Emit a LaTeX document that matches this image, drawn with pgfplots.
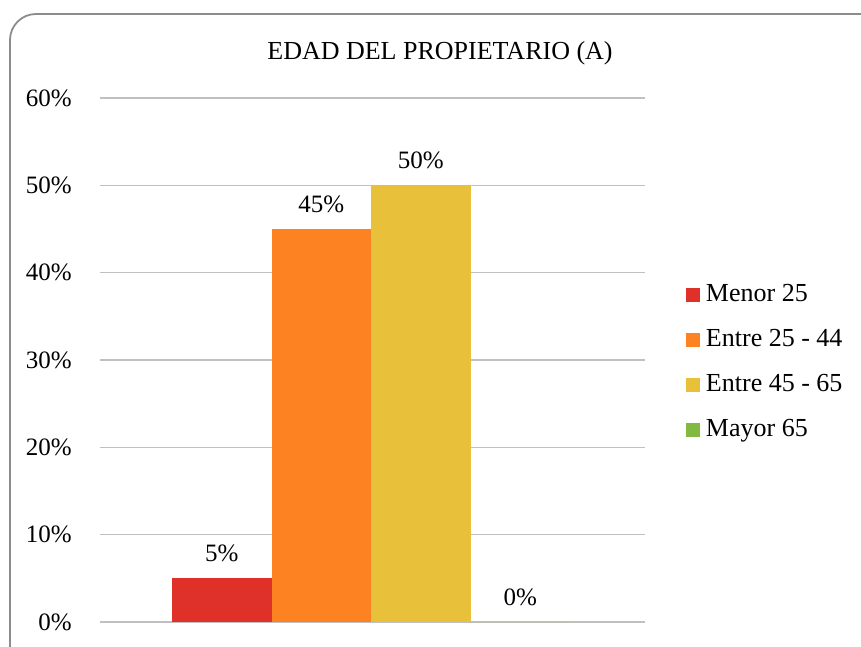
\documentclass[border=0pt]{standalone}
\usepackage{pgfplots}
\pgfplotsset{compat=1.18}
\usepackage{fontspec}
\setmainfont{Liberation Serif}
\definecolor{cRed}{HTML}{E0302A}
\definecolor{cOrange}{HTML}{FD8221}
\definecolor{cYellow}{HTML}{E9C03A}
\definecolor{cGreen}{HTML}{82BA41}
\definecolor{cGrid}{HTML}{C0C0C0}
\definecolor{cBorder}{HTML}{8C8C8C}
\begin{document}
\begin{tikzpicture}[x=1pt,y=1pt]
\useasboundingbox (0,0) rectangle (861,646);
\draw[color=cBorder, line width=1.8pt, rounded corners=26pt] (10,632) rectangle (920,-60);
\node[font=\fontsize{26}{30}\selectfont] at (440,593) {EDAD DEL PROPIETARIO (A)};
\begin{axis}[
  at={(100pt,24pt)}, anchor=south west,
  scale only axis, width=545pt, height=524pt,
  ybar=0pt, bar width=99.5pt,
  xmin=-271, xmax=274, ymin=0, ymax=60,
  xtick=\empty, ytick={0,10,20,30,40,50,60},
  yticklabels={0\%,10\%,20\%,30\%,40\%,50\%,60\%},
  ymajorgrids, grid style={color=cGrid, line width=1.5pt},
  axis line style={draw=none},
  major tick length=0pt,
  tick label style={font=\fontsize{25}{30}\selectfont},
  /pgf/number format/assume math mode=true,
  yticklabel style={anchor=east, inner sep=0pt, xshift=-28pt},
  point meta=explicit symbolic,
  nodes near coords={\pgfplotspointmeta\%},
  nodes near coords style={font=\fontsize{25}{30}\selectfont, anchor=center, yshift=25pt, inner sep=0pt},
  legend image code/.code={\fill[#1] (0pt,-7pt) rectangle (14pt,7pt);},
  legend style={at={(1.0752,0.4943)}, anchor=west, draw=none, fill=none,
    inner sep=0pt, outer sep=0pt, column sep=6pt, row sep=21pt,
    font=\fontsize{26}{30}\selectfont,
    nodes={inner sep=0pt, text height=18pt, text depth=6pt}},
  legend cell align=left,
]
\addplot[fill=cRed, draw=none] coordinates {(0,5) [5]};
\addplot[fill=cOrange, draw=none] coordinates {(0,45) [45]};
\addplot[fill=cYellow, draw=none] coordinates {(0,50) [50]};
\addplot[fill=cGreen, draw=none] coordinates {(0,0) [0]};
\legend{Menor 25, Entre 25 - 44, Entre 45 - 65, Mayor 65}
\end{axis}
\end{tikzpicture}
\end{document}
